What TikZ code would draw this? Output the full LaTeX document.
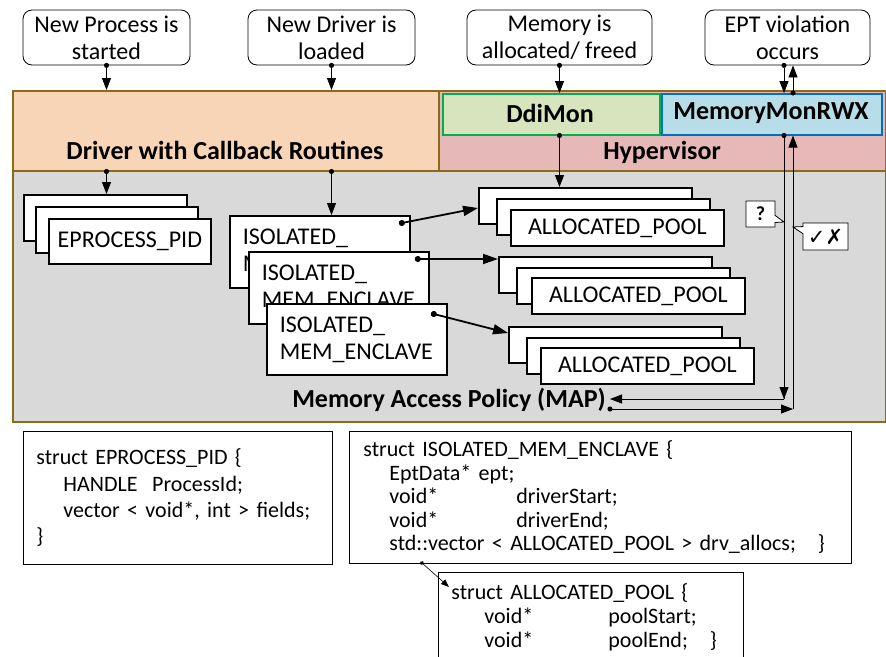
\documentclass[tikz,border=0pt]{standalone}
\usepackage{fontspec}
\setmainfont{Carlito}
\newfontfamily\symfont{DejaVu Sans}
\usetikzlibrary{arrows.meta,shapes.callouts}
\definecolor{orfill}{HTML}{F9D5B8}
\definecolor{hvfill}{HTML}{E6B9B8}
\definecolor{ddfill}{HTML}{D7E4BD}
\definecolor{ddline}{HTML}{00B050}
\definecolor{mmfill}{HTML}{B7DEE8}
\definecolor{mmline}{HTML}{0070C0}
\definecolor{mapfill}{HTML}{D9D9D9}
\definecolor{olive}{HTML}{8C6A16}
\begin{document}
\begin{tikzpicture}[x=1pt,y=-1pt,
  font=\fontsize{24}{27}\selectfont,
  evt/.style={draw, rounded corners=9pt, fill=white, line width=0.8pt, align=center, inner sep=0pt},
  region/.style={draw=olive, line width=1.5pt, anchor=north west, inner sep=0pt},
  inner/.style={line width=1.5pt, anchor=north west, inner sep=0pt},
  title/.style={font=\fontsize{26}{28}\selectfont\bfseries, inner sep=0pt},
  stk/.style={draw, fill=white, line width=1.8pt, anchor=north west, inner sep=0pt},
  pool/.style={stk, minimum width=213pt, minimum height=36pt},
  structbox/.style={draw, fill=white, line width=0.8pt, anchor=north west, align=left, inner ysep=0pt},
  tri/.style={-{Triangle[length=12pt,width=9pt]}, line width=0.8pt},
  dottri/.style={{Circle[length=5pt]}-{Triangle[length=12pt,width=9pt]}, line width=0.8pt, shorten <=-2.5pt},
  thick tri/.style={{Circle[length=6pt]}-{Triangle[length=15pt,width=10pt]}, line width=1.8pt, shorten <=-3pt},
  dotline/.style={{Circle[length=5pt]}-, line width=0.8pt, shorten <=-2.5pt},
  co/.style={rectangle callout, draw, fill=white, line width=0.8pt, inner sep=0pt}
]
\clip (0,0) rectangle (886,656);
\fill[white] (0,0) rectangle (886,656);

% event boxes
\node[evt, minimum width=167pt, minimum height=55pt] (e1) at (106.5,37.5) {New Process is\\started};
\node[evt, minimum width=167pt, minimum height=55pt] (e2) at (331.5,37.5) {New Driver is\\loaded};
\node[evt, minimum width=185pt, minimum height=55pt] (e3) at (559.5,37.5) {Memory is\\allocated/ freed};
\node[evt, minimum width=165pt, minimum height=55pt] (e4) at (787.5,37.5) {EPT violation\\occurs};

% regions
\node[region, fill=mapfill, minimum width=873pt, minimum height=251pt] (map) at (12,170) {};
\node[region, fill=orfill, minimum width=426pt, minimum height=80pt] (drv) at (12,90) {};
\node[region, fill=hvfill, minimum width=447pt, minimum height=80pt] (hv) at (438,90) {};
\node[inner, draw=ddline, fill=ddfill, minimum width=217pt, minimum height=41pt] (ddi) at (442,93) {};
\node[inner, draw=mmline, fill=mmfill, minimum width=220pt, minimum height=41pt] (mm) at (661,93) {};

\node[title] (drvt) at (225,150) {Driver with Callback Routines};
\node[title] (hvt) at (662,152) {Hypervisor};
\node[title] (ddit) at (550,113.5) {DdiMon};
\node[title] (mmt) at (771,113.5) {MemoryMonRWX};
\node[title] (mapt) at (449,400) {Memory Access Policy (MAP)};

% EPROCESS stack
\node[stk, minimum width=163pt, minimum height=46pt] (ep1) at (23,194) {};
\node[stk, minimum width=162pt, minimum height=46pt] (ep2) at (35,206) {};
\node[stk, minimum width=162pt, minimum height=45pt] (ep3) at (48,218) {EPROCESS\_PID};

% ISOLATED stack
\node[stk, minimum width=180pt, minimum height=72pt, text width=154pt, inner xsep=13pt, align=left] (iso1) at (229,215) {ISOLATED\_\\MEM\_ENCLAVE};
\node[stk, minimum width=180pt, minimum height=72pt, text width=154pt, inner xsep=13pt, align=left] (iso2) at (248,251) {ISOLATED\_\\MEM\_ENCLAVE};
\node[stk, minimum width=180pt, minimum height=71pt, text width=154pt, inner xsep=13pt, align=left] (iso3) at (266,303) {ISOLATED\_\\MEM\_ENCLAVE};

% ALLOCATED stacks
\node[pool] (a1a) at (478,187) {};
\node[pool] (a1b) at (496,198) {};
\node[pool] (a1c) at (510,209) {ALLOCATED\_POOL};
\node[pool] (a2a) at (498,256) {};
\node[pool] (a2b) at (516,267) {};
\node[pool] (a2c) at (531,277) {ALLOCATED\_POOL};
\node[pool] (a3a) at (508,326) {};
\node[pool] (a3b) at (526,337) {};
\node[pool] (a3c) at (540,347) {ALLOCATED\_POOL};

% callouts
\node[co, callout absolute pointer={(784,222)}, minimum width=29pt, minimum height=26pt, font=\fontsize{20}{22}\selectfont\bfseries] (qm) at (760.5,214) {?};
\node[co, callout absolute pointer={(793,227)}, minimum width=45pt, minimum height=27pt, font=\symfont\fontsize{21}{22}\selectfont\bfseries] (ck) at (825.5,236.5) {✓✗};

% struct boxes
\node[structbox, minimum width=309pt, minimum height=133pt, text width=283pt, inner xsep=13pt, font=\fontsize{22}{26.3}\selectfont] (s1) at (23,431)
 {struct EPROCESS\_PID \{\\
  \hspace*{27pt}HANDLE\ \ ProcessId;\\
  \hspace*{27pt}vector < void*, int > fields;\\
  \}};
\node[structbox, minimum width=502pt, minimum height=132pt, text width=474pt, inner xsep=14pt, font=\fontsize{22}{23.5}\selectfont] (s2) at (349,431)
 {struct ISOLATED\_MEM\_ENCLAVE \{\\
  \hspace*{26pt}EptData* ept;\\
  \hspace*{26pt}\makebox[127pt][l]{void*}driverStart;\\
  \hspace*{26pt}\makebox[127pt][l]{void*}driverEnd;\\
  \hspace*{26pt}std::vector < ALLOCATED\_POOL > drv\_allocs;\ \ \ \}};
\node[structbox, minimum width=305pt, minimum height=90pt, text width=279pt, inner xsep=13pt, font=\fontsize{22}{24}\selectfont] (s3) at (438,572)
 {struct ALLOCATED\_POOL \{\\
  \hspace*{33pt}\makebox[124pt][l]{void*}poolStart;\\
  \hspace*{33pt}\makebox[124pt][l]{void*}poolEnd;\ \ \ \}};

% coordinates
\coordinate (p1) at (784,0);
\coordinate (p2) at (793,0);
\coordinate (q1) at (784,399);
\coordinate (q2) at (610,399);
\coordinate (q3) at (610,409);
\coordinate (q4) at (793,409);
\coordinate (sv) at (422,563);
\coordinate (sa) at (449,587);

% connectors
\draw[dottri] (e1.south) -- (e1.south |- drv.north);
\draw[dottri] (e2.south) -- (e2.south |- drv.north);
\draw[dottri] (e3.south) -- (e3.south |- ddi.north);
\draw[dottri] (p1 |- e4.south) -- (p1 |- mm.north);
\draw[dottri] (p2 |- mm.north) -- (p2 |- e4.south);

\draw[dottri] (e1.south |- drv.south) -- (e1.south |- ep1.north);
\draw[dottri] (e2.south |- drv.south) -- (e2.south |- iso1.north);
\draw[dottri] (e3.south |- ddi.south) -- (e3.south |- a1a.north);

\draw[thick tri] ([shift={(-9,8)}]iso1.north east) -- ([shift={(0,21)}]a1a.north west);
\draw[thick tri] ([shift={(-12,8)}]iso2.north east) -- ([shift={(0,3)}]a2a.north west);
\draw[thick tri] ([shift={(-14,11)}]iso3.north east) -- ([shift={(0,7)}]a3a.north west);

\draw[dotline] (p1 |- mm.south) -- (q1);
\draw[tri] (p1 |- mm.south) -- (q1);
\draw[tri] (q1) -- (q2);
\draw[dottri] (q3) -- (q4);
\draw[tri] (q4) -- (p2 |- mm.south);

\draw[{Circle[length=4pt]}-{Triangle[length=8pt,width=6pt]}, line width=0.6pt, shorten <=-2pt] (sv) -- (sa);
\end{tikzpicture}
\end{document}
